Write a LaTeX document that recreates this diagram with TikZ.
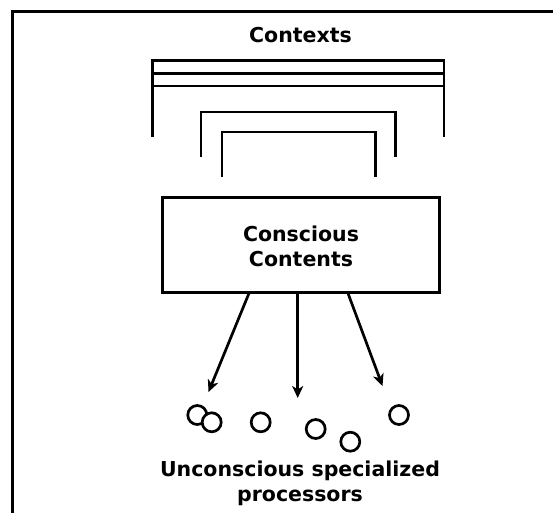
\documentclass[tikz,border=0pt]{standalone}
\usepackage{fontspec}
\setmainfont{DejaVu Sans}
\usetikzlibrary{arrows.meta}
\begin{document}
\begin{tikzpicture}[x=1pt,y=-1pt,
  lbl/.style={font=\bfseries\fontsize{20.5}{24.3}\selectfont, align=center, inner sep=0pt},
  brk/.style={line width=2.8pt, line cap=butt, line join=miter},
  proc/.style={circle, draw, line width=2.7pt, minimum size=19pt, inner sep=0pt},
  arr/.style={line width=2.7pt, -{Stealth[length=12pt,width=11pt,inset=3.5pt]}}]
\useasboundingbox (0,0) rectangle (553,512);
\begin{scope}
\clip (0,0) rectangle (553,512);
\draw[line width=3pt] (12,11) rectangle (570,530);
\end{scope}
\node[lbl, anchor=base] (ctx) at (300.5,42) {Contexts};
% outer bracket
\draw[brk] (152.7,137) -- (152.7,60.7) -- (444,60.7) -- (444,137);
\draw[brk] (152.7,73.3) -- (444,73.3);
\draw[brk] (152.7,86) -- (444,86);
% middle bracket
\draw[brk] (201,156.7) -- (201,112) -- (395.7,112) -- (395.7,156.7);
% inner bracket
\draw[brk] (222,176.7) -- (222,132) -- (375.3,132) -- (375.3,176.7);
% box
\node[draw, line width=2.8pt, minimum width=277pt, minimum height=95pt, inner sep=0pt] (box) at (301,245) {};
\node[lbl, anchor=base] (cc1) at (301,241.7) {Conscious};
\node[lbl, anchor=base] (cc2) at (301,266) {Contents};
% processors
\node[proc] (p1) at (197.3,415) {};
\node[proc, fill=white] (p2) at (211.7,422.3) {};
\node[proc] (p3) at (260.7,422.3) {};
\node[proc] (p4) at (315.7,429) {};
\node[proc] (p5) at (350.3,441.7) {};
\node[proc] (p6) at (399,415) {};
% arrows
\coordinate (s1) at (249.3,292.5);
\coordinate (s2) at (297.7,292.5);
\coordinate (s3) at (347.7,292.5);
\coordinate (e1) at (208.5,392);
\coordinate (e2) at (297.7,398);
\coordinate (e3) at (382.5,386);
\draw[arr] (s1) -- (e1);
\draw[arr] (s2) -- (e2);
\draw[arr] (s3) -- (e3);
\node[lbl, anchor=base] (u1) at (300,476.7) {Unconscious specialized};
\node[lbl, anchor=base] (u2) at (300,501) {processors};
\end{tikzpicture}
\end{document}
